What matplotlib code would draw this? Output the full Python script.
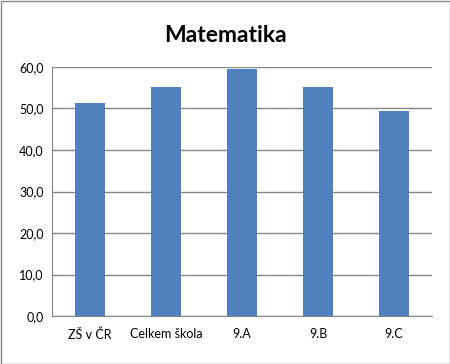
import matplotlib
matplotlib.use("Agg")
import matplotlib.pyplot as plt
from matplotlib.ticker import FuncFormatter, MultipleLocator
from matplotlib.patches import Rectangle

categories = ["ZŠ v ČR", "Celkem škola", "9.A", "9.B", "9.C"]
values = [51.4, 55.3, 59.6, 55.3, 49.5]
title = "Matematika"

plt.rcParams['font.family'] = ['Lato', 'DejaVu Sans']

fig = plt.figure(figsize=(4.5, 3.64), dpi=100)
W, H = 450, 364
ax = fig.add_axes([52/W, 1-316/H, 380/W, 249/H])

x = range(len(categories))
ax.bar(x, values, width=0.4, color="#4F81BD", zorder=3)
ax.set_xlim(-0.5, len(categories)-0.5)
ax.set_ylim(0, 60)
ax.yaxis.set_major_locator(MultipleLocator(10))
ax.yaxis.set_major_formatter(FuncFormatter(lambda v, p: f"{v:.1f}".replace(".", ",")))
ax.set_xticks(list(x))
ax.set_xticklabels(categories)
ax.grid(axis='y', color="#868686", linewidth=1, zorder=0)
for s in ["top", "right"]:
    ax.spines[s].set_visible(False)
for s in ["left", "bottom"]:
    ax.spines[s].set_color("#868686")
ax.tick_params(axis='x', length=0, labelsize=9, colors="black", pad=9)
ax.tick_params(axis='y', length=0, labelsize=9, colors="black", pad=6)

fig.text(0.5, 1-36/H, title, ha='center', va='center', fontsize=16.5, fontweight='bold')
fig.patches.append(Rectangle((0.5/W, 0.5/H), 1-1/W, 1-1/H, transform=fig.transFigure,
                             fill=False, edgecolor="#868686", linewidth=1))
fig.savefig("out.png", dpi=100)
